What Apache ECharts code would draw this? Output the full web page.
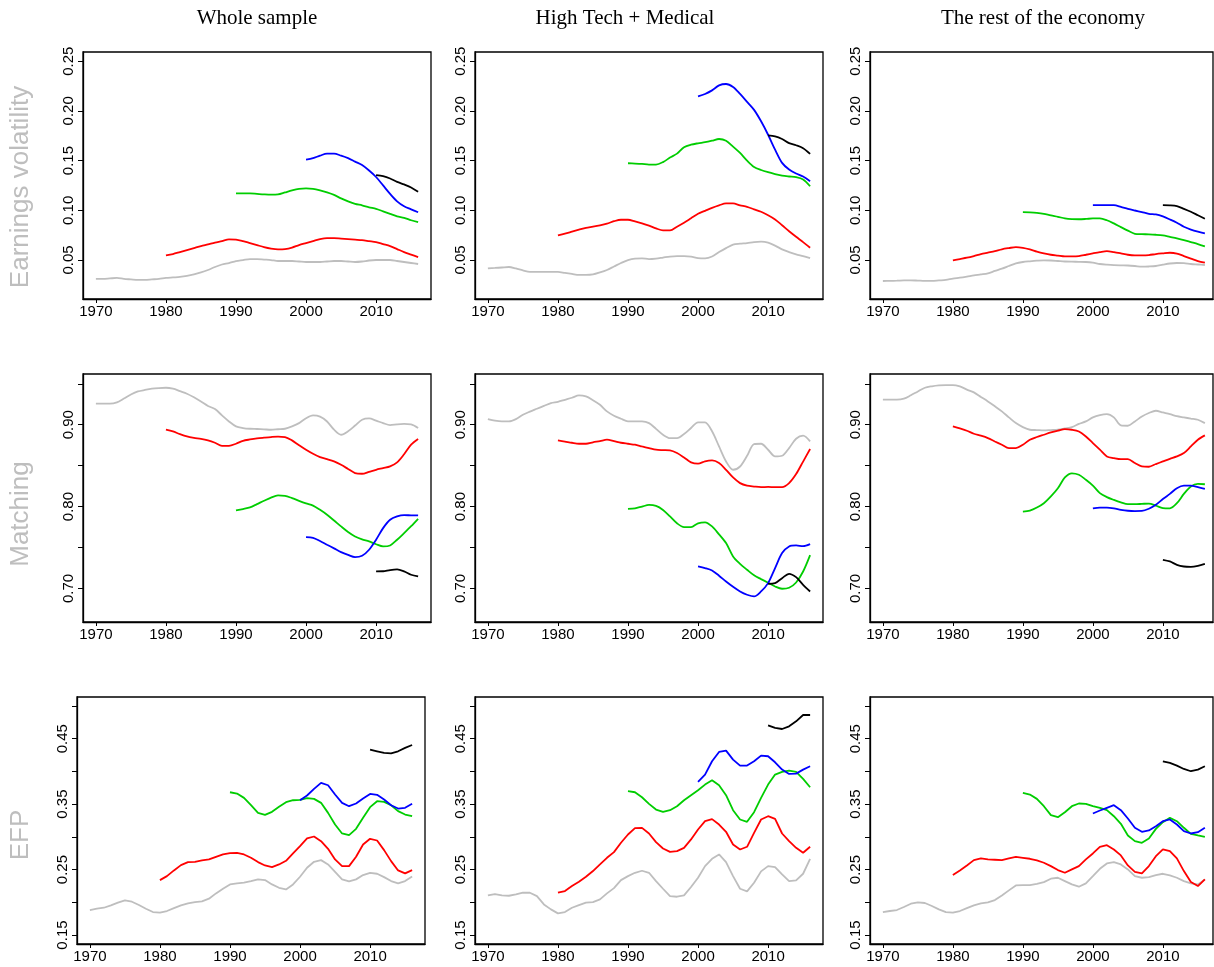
<!DOCTYPE html>
<html><head><meta charset="utf-8">
<script src="https://cdn.jsdelivr.net/npm/echarts@6/dist/echarts.min.js"></script>
<style>html,body{margin:0;padding:0;background:#fff}#c{width:1214px;height:967px}</style>
</head><body><div id="c"></div><script>
// ---------- data ----------
const startYears = [1970, 1980, 1990, 2000, 2010];
const seriesColors = ['#bebebe', '#ff0000', '#00cd00', '#0000ff', '#000000'];
const columnTitles = ['Whole sample', 'High Tech + Medical', 'The rest of the economy'];
const rowTitles = ['Earnings volatility', 'Matching', 'EFP'];
const xTicks = [1970, 1980, 1990, 2000, 2010];
const evTicks = [0.05, 0.10, 0.15, 0.20, 0.25];
const matchTicks = [0.70, 0.75, 0.80, 0.85, 0.90, 0.95];
const matchLabels = [0.70, 0.80, 0.90];
const efpTicks = [0.15, 0.20, 0.25, 0.30, 0.35, 0.40, 0.45, 0.50];
const efpLabels = [0.15, 0.25, 0.35, 0.45];

// Earnings volatility - Whole sample
const evWholeGray = [.031,.031,.0315,.032,.031,.0305,.030,.030,.0305,.031,
  .032,.0325,.033,.034,.0355,.0375,.040,.043,.0455,.047,
  .049,.050,.051,.051,.0505,.050,.049,.049,.049,.0485,
  .048,.048,.048,.0485,.049,.049,.0485,.048,.0485,.0495,
  .050,.050,.050,.049,.048,.047,.046];
const evWholeRed = [.0547,.056,.058,.060,.062,.064,.0657,.0675,.069,.0707,
  .0705,.069,.067,.065,.063,.0615,.0607,.061,.0625,.065,
  .067,.069,.071,.072,.072,.0715,.071,.0705,.070,.069,
  .068,.066,.064,.061,.058,.0555,.053];
const evWholeGreen = [.117,.117,.117,.1165,.116,.1157,.116,.118,.120,.1215,
  .122,.1215,.120,.118,.1155,.112,.109,.1065,.105,.103,
  .1015,.099,.0965,.094,.0925,.090,.088];
const evWholeBlue = [.151,.1525,.155,.157,.157,.155,.1525,.149,.1455,.140,
  .1335,.125,.1165,.109,.104,.101,.098];
const evWholeBlack = [.1353,.1343,.132,.1286,.126,.123,.1186];

// Earnings volatility - High Tech + Medical
const evTechGray = [.0416,.042,.0425,.043,.0415,.0395,.038,.038,.038,.038,
  .038,.037,.036,.035,.035,.0355,.0375,.040,.0435,.047,
  .050,.0515,.0517,.051,.0515,.0525,.0535,.054,.054,.0535,
  .052,.0517,.0535,.058,.062,.0655,.0664,.067,.068,.0684,
  .0675,.0645,.0607,.058,.0557,.054,.052];
const evTechRed = [.0747,.0765,.0785,.0805,.0824,.0835,.0848,.0865,.089,.0905,
  .0905,.0888,.0868,.0845,.0818,.0798,.0798,.0835,.0875,.092,
  .0965,.0995,.1025,.105,.1069,.1069,.105,.1035,.101,.0985,
  .095,.0908,.085,.079,.0734,.068,.0624];
const evTechGreen = [.1473,.147,.1466,.146,.146,.1485,.153,.157,.1634,.166,
  .1674,.1685,.170,.1717,.170,.164,.1577,.150,.1436,.1405,
  .1383,.1365,.1349,.134,.1333,.131,.1242];
const evTechBlue = [.2146,.217,.2206,.2256,.227,.224,.217,.209,.201,.1895,
  .176,.161,.1477,.141,.137,.134,.1293];
const evTechBlack = [.1754,.1744,.1717,.1676,.1654,.1625,.1567];

// Earnings volatility - Rest of economy
const evRestGray = [.0289,.029,.0292,.0295,.0296,.0293,.029,.029,.0295,.030,
  .0313,.0322,.0333,.0345,.0355,.0366,.039,.0413,.044,.0467,
  .048,.0487,.0493,.0497,.0495,.049,.0485,.0483,.0482,.048,
  .0473,.046,.0453,.0448,.0446,.0445,.044,.0433,.0435,.044,
  .0453,.0465,.047,.0468,.046,.0455,.045];
const evRestRed = [.0497,.051,.0523,.054,.056,.0575,.059,.0608,.062,.063,
  .0623,.0607,.0585,.0567,.0553,.0545,.0537,.0537,.054,.0553,
  .0567,.058,.059,.058,.0567,.0553,.0547,.0547,.055,.056,
  .0567,.0573,.0565,.054,.0515,.049,.0473];
const evRestGreen = [.0982,.098,.0975,.0965,.0948,.0935,.0918,.0911,.091,.0913,
  .0918,.0918,.090,.0868,.0831,.0795,.0764,.076,.0758,.0754,
  .0747,.0732,.0717,.070,.068,.066,.0637];
const evRestBlue = [.1052,.1053,.1053,.1052,.1035,.1015,.0998,.0982,.0965,.0958,
  .0938,.0908,.0875,.0834,.0806,.0785,.0768];
const evRestBlack = [.1052,.105,.1042,.1015,.0985,.095,.0915];

// Matching - Whole sample
const mtWholeGray = [.9257,.9257,.9257,.9273,.932,.937,.9407,.9425,.944,.9448,
  .9452,.944,.941,.9379,.9335,.9285,.923,.9191,.9115,.904,
  .898,.896,.8951,.8948,.8944,.8939,.8945,.8951,.898,.902,
  .908,.9114,.910,.904,.894,.8878,.892,.899,.9061,.9077,
  .905,.902,.8996,.9005,.901,.9005,.896];
const mtWholeRed = [.8939,.8918,.8885,.8857,.884,.8828,.8809,.878,.8743,.8743,
  .8768,.8804,.882,.8833,.8842,.885,.8855,.885,.8809,.875,
  .8694,.8645,.8605,.858,.8552,.8511,.846,.8409,.8401,.8425,
  .845,.847,.8491,.854,.864,.8756,.8825];
const mtWholeGreen = [.7953,.797,.799,.803,.8071,.811,.8136,.8132,.8104,.8071,
  .804,.8012,.796,.790,.783,.7758,.769,.7635,.760,.7574,
  .754,.7513,.7525,.7595,.7676,.776,.7851];
const mtWholeBlue = [.7627,.7619,.758,.7534,.749,.7444,.741,.7383,.7399,.7473,
  .7595,.7737,.7839,.788,.7896,.7893,.7892];
const mtWholeBlack = [.7208,.721,.7225,.7232,.7208,.7167,.7147];

// Matching - High Tech + Medical
const mtTechGray = [.9069,.905,.9041,.9041,.9069,.9122,.916,.9195,.923,.9265,
  .928,.9305,.933,.9358,.9346,.930,.9244,.9163,.911,.9073,
  .9041,.9041,.9041,.902,.895,.8878,.8837,.8837,.8886,.896,
  .9029,.9029,.892,.8735,.8552,.845,.849,.862,.8764,.8768,
  .8695,.8613,.8621,.8715,.8829,.8866,.8796];
const mtTechRed = [.8809,.8795,.878,.8768,.8768,.8785,.880,.8817,.880,.878,
  .8768,.8756,.8735,.8715,.8695,.869,.8686,.8654,.860,.854,
  .8524,.8553,.8564,.8532,.845,.8356,.8287,.8255,.8245,.8238,
  .824,.8238,.8238,.8287,.8397,.855,.8703];
const mtTechGreen = [.7971,.7979,.800,.802,.8008,.7959,.788,.7796,.775,.775,
  .7796,.7808,.7758,.766,.7554,.7391,.730,.7228,.716,.7114,
  .707,.7024,.6996,.7008,.7073,.7207,.7407];
const mtTechBlue = [.7269,.7249,.722,.7155,.7085,.702,.6963,.6923,.6902,.6963,
  .7065,.7249,.7432,.7513,.7525,.7517,.7542];
const mtTechBlack = [.7057,.7065,.7126,.7179,.7138,.7045,.6963];

// Matching - Rest of economy
const mtRestGray = [.9306,.9306,.9306,.9318,.936,.9407,.9452,.947,.9481,.9485,
  .9485,.9468,.943,.9395,.934,.9285,.9225,.9163,.909,.902,
  .8971,.8939,.8935,.8931,.8935,.8939,.8955,.8971,.901,.9041,
  .909,.9118,.913,.909,.8992,.8988,.9041,.910,.9143,.9171,
  .915,.913,.9105,.909,.9075,.9061,.902];
const mtRestRed = [.898,.8955,.8927,.889,.8866,.8837,.8796,.8756,.8715,.8715,
  .8756,.8817,.885,.8878,.8906,.8927,.8947,.8939,.8918,.8857,
  .8776,.8695,.8613,.8593,.858,.858,.8532,.8491,.8487,.852,
  .8552,.8584,.8613,.8654,.8735,.8817,.887];
const mtRestGreen = [.7939,.7951,.7988,.8041,.8124,.8224,.8356,.8407,.8389,.8328,
  .8257,.8165,.8116,.8081,.8051,.8029,.8029,.8033,.8037,.8012,
  .7982,.7979,.8041,.8155,.8246,.8277,.8273];
const mtRestBlue = [.7979,.7988,.7988,.7979,.7961,.7949,.7945,.7947,.7974,.8022,
  .8092,.8155,.8224,.8255,.8255,.8238,.8218];
const mtRestBlack = [.735,.733,.7288,.7268,.7264,.7276,.7301];

// EFP - Whole sample
const efpWholeGray = [.1882,.1902,.1917,.1953,.1994,.2029,.2009,.1958,.1902,.1851,
  .1841,.1867,.1912,.1953,.1983,.2004,.2014,.2055,.2136,.2207,
  .2273,.2289,.2299,.2324,.2350,.2339,.2273,.2222,.2197,.2273,
  .2390,.2527,.2619,.2644,.2578,.2466,.2350,.2319,.2350,.2416,
  .2451,.2436,.2385,.2324,.2289,.2324,.2395];
const efpWholeRed = [.2339,.2400,.2487,.2568,.2614,.2619,.2639,.2655,.2695,.2731,
  .2751,.2756,.2731,.2680,.2614,.2563,.2538,.2578,.2634,.2746,
  .2858,.2975,.3005,.2934,.2817,.2655,.2553,.2553,.2695,.2883,
  .2970,.2944,.2797,.2629,.2487,.2441,.2492];
const efpWholeGreen = [.3681,.3661,.3595,.3483,.3366,.3336,.3382,.3458,.3529,.3559,
  .3565,.3590,.3580,.3519,.3366,.3188,.3051,.3026,.3122,.3290,
  .3453,.3544,.3534,.3483,.3392,.3341,.3315];
const efpWholeBlue = [.3559,.3631,.3732,.3824,.3788,.3646,.3519,.3468,.3509,.3585,
  .3656,.3641,.3570,.3483,.3432,.3443,.3504];
const efpWholeBlack = [.4332,.4307,.4281,.4276,.4307,.4358,.4403];

// EFP - High Tech + Medical
const efpTechGray = [.2105,.2126,.2105,.2100,.2121,.2146,.2146,.2095,.1968,.1892,
  .1831,.1851,.1917,.1958,.1994,.2004,.2044,.2136,.2217,.2339,
  .2400,.2451,.2482,.2451,.2324,.2207,.2095,.2085,.2105,.2233,
  .2375,.2553,.2665,.2731,.2614,.2400,.2207,.2167,.2299,.2472,
  .2553,.2538,.2426,.2324,.2334,.2436,.2665];
const efpTechRed = [.2146,.2172,.2248,.2314,.2390,.2477,.2578,.2680,.2766,.2909,
  .3036,.3132,.3137,.3051,.2919,.2822,.2771,.2782,.2832,.2960,
  .3112,.3239,.3270,.3188,.3077,.2883,.2807,.2848,.3061,.3265,
  .3315,.3275,.3051,.2934,.2832,.2756,.2848];
const efpTechGreen = [.3697,.3681,.3605,.3504,.3417,.3382,.3407,.3468,.3559,.3636,
  .3712,.3798,.3865,.3788,.3636,.3407,.3265,.3229,.3376,.3595,
  .3798,.3951,.3992,.4012,.3992,.3885,.3758];
const efpTechBlue = [.3839,.3951,.4154,.4297,.4317,.4180,.4088,.4088,.4154,.4241,
  .4231,.4139,.4027,.3961,.3966,.4027,.4078];
const efpTechBlack = [.4703,.4663,.4647,.4688,.4764,.4861,.4861];

// EFP - Rest of economy
const efpRestGray = [.1851,.1867,.1882,.1928,.1978,.1999,.1989,.1943,.1892,.1851,
  .1841,.1867,.1912,.1953,.1983,.1999,.2034,.2105,.2182,.2258,
  .2263,.2263,.2283,.2309,.2360,.2375,.2324,.2273,.2238,.2289,
  .2400,.2512,.2594,.2614,.2578,.2502,.2400,.2375,.2385,.2416,
  .2436,.2410,.2375,.2324,.2289,.2273,.2350];
const efpRestRed = [.2416,.2487,.2563,.2644,.2670,.2655,.2650,.2644,.2670,.2695,
  .2680,.2665,.2639,.2604,.2553,.2492,.2451,.2502,.2553,.2655,
  .2746,.2848,.2873,.2807,.2716,.2563,.2466,.2441,.2553,.2705,
  .2807,.2782,.2670,.2477,.2309,.2248,.2350];
const efpRestGreen = [.3671,.3646,.3580,.3468,.3331,.3300,.3376,.3468,.3509,.3504,
  .3468,.3443,.3407,.3315,.3199,.3021,.2934,.2909,.2975,.3122,
  .3224,.3290,.3239,.3138,.3046,.3021,.3000];
const efpRestBlue = [.3356,.3402,.3443,.3483,.3407,.3280,.3138,.3077,.3097,.3163,
  .3239,.3265,.3188,.3087,.3051,.3071,.3138];
const efpRestBlack = [.4154,.4129,.4088,.4037,.4002,.4027,.4078];

// ---------- layout / build ----------
const panels = [
  [[evWholeGray, evWholeRed, evWholeGreen, evWholeBlue, evWholeBlack],
   [evTechGray, evTechRed, evTechGreen, evTechBlue, evTechBlack],
   [evRestGray, evRestRed, evRestGreen, evRestBlue, evRestBlack]],
  [[mtWholeGray, mtWholeRed, mtWholeGreen, mtWholeBlue, mtWholeBlack],
   [mtTechGray, mtTechRed, mtTechGreen, mtTechBlue, mtTechBlack],
   [mtRestGray, mtRestRed, mtRestGreen, mtRestBlue, mtRestBlack]],
  [[efpWholeGray, efpWholeRed, efpWholeGreen, efpWholeBlue, efpWholeBlack],
   [efpTechGray, efpTechRed, efpTechGreen, efpTechBlue, efpTechBlack],
   [efpRestGray, efpRestRed, efpRestGreen, efpRestBlue, efpRestBlack]]
];
const yTickSets = [evTicks, matchTicks, efpTicks];
const yLabelSets = [evTicks, matchLabels, efpLabels];

const rowTop = [52, 374, 697], rowHeight = [247, 248, 247];
const colLeft = [[83, 475, 870], [83, 475, 870], [77, 475, 870]];
const colWidth = [348, 348, 343];
const yRange = [[0.0108, 0.2592], [0.659, 0.962], [0.1363, 0.5136]];
const xRange = [[1968.16, 2017.84], [1968.16, 2017.84], [1968.16, 2017.16]];
const sansFont = "'Liberation Sans', Arial, sans-serif";

const grids = [], xAxes = [], yAxes = [], series = [];
for (let r = 0; r < 3; r++) {
  for (let c = 0; c < 3; c++) {
    const idx = r * 3 + c;
    grids.push({left: colLeft[r][c], top: rowTop[r], width: colWidth[c], height: rowHeight[r],
      show: true, borderColor: '#000', borderWidth: 1.3, backgroundColor: 'transparent'});
    xAxes.push({type: 'value', gridIndex: idx, min: xRange[c][0], max: xRange[c][1],
      axisLine: {show: true, onZero: false, lineStyle: {color: '#000', width: 1.3}},
      axisTick: {show: true, length: 4, customValues: xTicks, lineStyle: {color: '#000', width: 1}},
      axisLabel: {show: true, customValues: xTicks, margin: 5, fontFamily: sansFont, fontSize: 15, color: '#000',
        formatter: v => String(Math.round(v))},
      splitLine: {show: false}});
    yAxes.push({type: 'value', gridIndex: idx, min: yRange[r][0], max: yRange[r][1],
      axisLine: {show: true, onZero: false, lineStyle: {color: '#000', width: 1.3}},
      axisTick: {show: true, length: 5, customValues: yTickSets[r], lineStyle: {color: '#000', width: 1}},
      axisLabel: {show: true, customValues: yLabelSets[r], rotate: 90, margin: 7, fontFamily: sansFont, fontSize: 15, color: '#000',
        formatter: v => v.toFixed(2)},
      splitLine: {show: false}});
    panels[r][c].forEach((arr, k) => {
      series.push({type: 'line', xAxisIndex: idx, yAxisIndex: idx,
        data: arr.map((v, i) => [startYears[k] + i, v]),
        showSymbol: false, symbol: 'none', smooth: r < 2 ? 0.3 : false,
        lineStyle: {color: seriesColors[k], width: 1.8}, itemStyle: {color: seriesColors[k]},
        silent: true, animation: false, z: 2 + k});
    });
  }
}

const titleX = [257, 625, 1043];
const rowLabelY = [187, 514, 835];
const graphics = [];
columnTitles.forEach((t, i) => graphics.push({type: 'text', x: titleX[i], y: 18,
  style: {text: t, font: "21px 'Liberation Serif', 'Times New Roman', serif", fill: '#000', align: 'center', verticalAlign: 'middle'}}));
rowTitles.forEach((t, i) => graphics.push({type: 'text', x: 21, y: rowLabelY[i], rotation: Math.PI / 2,
  style: {text: t, font: "26px 'Liberation Sans', Arial, sans-serif", fill: '#bebebe', align: 'center', verticalAlign: 'middle'}}));

const chart = echarts.init(document.getElementById('c'), null, {renderer: 'canvas'});
chart.setOption({animation: false, backgroundColor: '#fff', grid: grids, xAxis: xAxes, yAxis: yAxes, series: series, graphic: graphics});
</script></body></html>
